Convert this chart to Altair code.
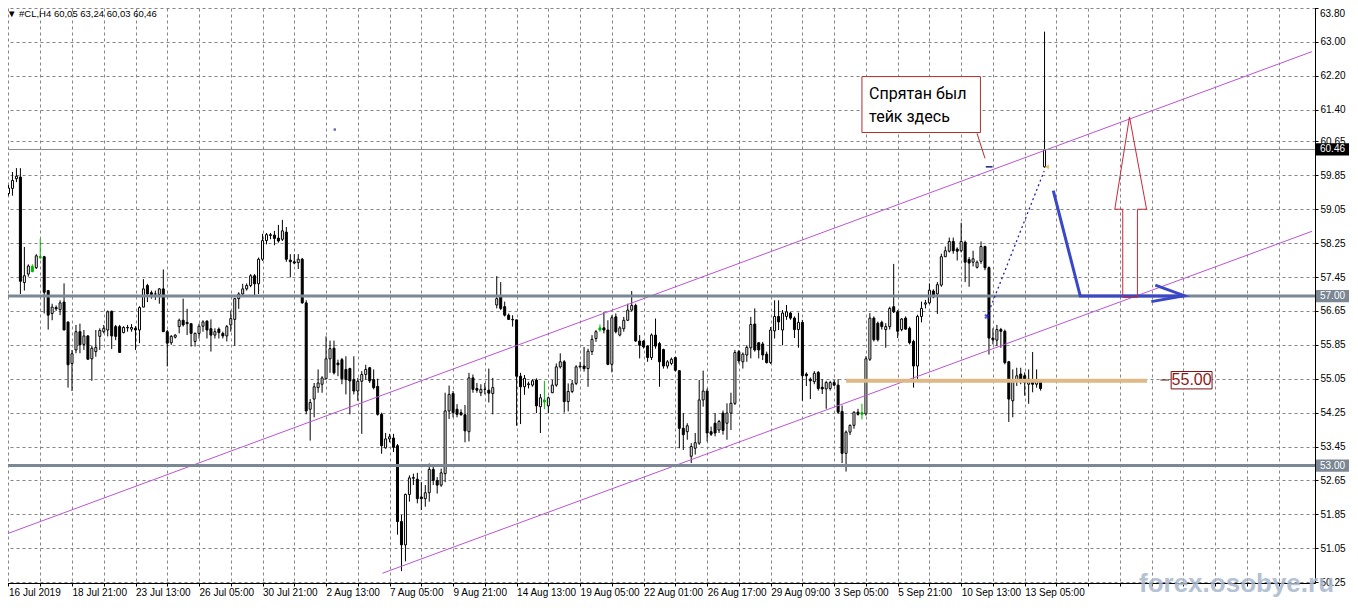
import altair as alt
import pandas as pd

W, H = 1313, 581

# ---------------- data ----------------
opens = [
    59.42, 59.54, 59.77, 59.81, 57.32, 57.52, 57.58, 57.67, 57.93, 57.93,
    57.13, 56.59, 56.73, 56.68, 56.86, 56.39, 55.41, 55.73, 56.16, 55.86,
    56.06, 55.52, 55.69, 56.05, 56.16, 56.20, 56.64, 56.28, 56.28, 56.14,
    56.26, 56.22, 56.24, 56.20, 56.74, 57.25, 57.08, 57.05, 57.04, 57.17,
    56.16, 55.90, 56.03, 56.28, 56.43, 56.38, 56.35, 55.93, 56.12, 56.29,
    56.41, 56.23, 56.08, 56.22, 56.12, 56.06, 56.32, 56.45, 56.94, 57.05,
    57.17, 57.25, 57.48, 57.29, 57.87, 58.31, 58.43, 58.44, 58.37, 58.34,
    58.51, 57.85, 57.81, 57.79, 57.87, 56.84, 54.33, 54.57, 54.84, 54.92,
    55.05, 55.52, 55.77, 55.42, 55.50, 55.27, 55.29, 55.03, 54.76, 54.99,
    55.15, 55.31, 55.03, 54.87, 54.21, 53.42, 53.63, 53.65, 53.47, 51.68,
    51.13, 52.32, 52.70, 52.68, 52.26, 52.22, 52.36, 52.91, 52.65, 52.54,
    52.81, 54.29, 54.70, 54.33, 54.25, 54.20, 53.80, 55.07, 54.82, 54.72,
    54.80, 54.78, 54.70, 56.79, 56.98, 56.75, 56.55, 56.45, 56.44, 55.11,
    54.86, 54.91, 54.90, 55.02, 54.39, 54.55, 54.41, 54.72, 54.90, 55.33,
    55.45, 54.51, 54.75, 54.94, 55.33, 55.35, 55.29, 55.69, 56.00, 56.20,
    56.25, 56.20, 55.39, 56.51, 56.08, 56.23, 56.43, 56.67, 56.78, 55.94,
    55.94, 55.82, 55.55, 56.08, 55.88, 55.74, 55.35, 55.41, 55.55, 55.24,
    53.88, 53.80, 53.22, 53.41, 53.53, 54.55, 54.76, 53.80, 54.00, 53.84,
    54.24, 54.00, 54.24, 54.47, 55.69, 55.45, 55.61, 55.78, 56.34, 55.90,
    55.87, 55.63, 55.43, 56.18, 56.52, 56.20, 56.52, 56.60, 56.48, 56.21,
    56.38, 55.16, 55.04, 54.98, 55.20, 54.85, 54.81, 54.82, 54.96, 54.90,
    54.28, 53.29, 53.79, 53.95, 54.26, 54.21, 54.22, 55.51, 56.48, 56.36,
    56.38, 56.21, 56.28, 56.75, 56.63, 56.21, 56.48, 56.24, 55.93, 55.35,
    56.52, 56.81, 56.84, 57.12, 57.05, 57.26, 57.93, 58.06, 58.29, 58.11,
    58.07, 58.27, 57.86, 57.80, 57.68, 57.82, 58.17, 57.67, 56.01, 55.96,
    56.21, 56.17, 55.45, 54.53, 55.00, 55.16, 55.12, 54.92, 55.00, 54.92,
    54.98, 60.05,
]
highs = [
    59.62, 59.93, 60.02, 60.02, 58.16, 57.75, 57.75, 57.99, 58.35, 57.95,
    57.13, 56.82, 56.78, 56.90, 57.30, 56.39, 55.73, 56.32, 56.35, 56.20,
    56.08, 55.83, 56.20, 56.24, 56.32, 56.66, 56.66, 56.32, 56.32, 56.29,
    56.32, 56.34, 56.29, 56.76, 57.40, 57.29, 57.13, 57.13, 57.19, 57.63,
    56.20, 56.08, 56.10, 56.47, 56.94, 56.70, 56.35, 56.14, 56.35, 56.43,
    56.43, 56.45, 56.24, 56.26, 56.16, 56.32, 56.66, 56.96, 57.09, 57.29,
    57.30, 57.52, 57.52, 57.91, 58.47, 58.49, 58.49, 58.54, 58.68, 58.80,
    58.63, 57.99, 57.99, 57.99, 57.90, 56.90, 54.57, 54.95, 55.27, 55.11,
    56.05, 55.95, 55.95, 55.50, 55.54, 55.58, 55.31, 55.58, 55.07, 55.23,
    55.38, 55.33, 55.27, 55.05, 54.25, 53.77, 53.75, 53.75, 53.51, 51.84,
    52.34, 52.77, 52.81, 52.83, 52.61, 52.54, 53.05, 52.97, 52.73, 52.93,
    54.72, 54.89, 54.76, 54.45, 54.33, 54.43, 55.19, 55.15, 54.95, 54.92,
    54.95, 55.29, 55.07, 57.47, 57.33, 56.87, 56.59, 56.55, 56.44, 55.19,
    55.14, 54.98, 55.04, 55.06, 54.69, 55.00, 54.63, 55.02, 55.41, 55.65,
    55.49, 54.94, 55.02, 55.37, 55.45, 55.80, 55.76, 56.08, 56.20, 56.33,
    56.63, 56.43, 56.55, 56.59, 56.29, 56.51, 56.82, 57.12, 56.82, 56.08,
    55.96, 55.84, 56.12, 56.47, 55.92, 55.76, 55.49, 55.55, 55.57, 55.25,
    54.24, 54.00, 53.53, 53.77, 55.02, 55.24, 54.82, 53.92, 54.24, 54.08,
    54.30, 54.47, 54.72, 55.73, 55.73, 55.67, 55.84, 56.51, 56.71, 55.90,
    55.92, 55.69, 56.27, 56.90, 56.90, 56.67, 56.79, 56.63, 56.52, 56.61,
    56.44, 55.20, 55.08, 55.23, 55.23, 55.04, 55.00, 55.00, 55.02, 55.04,
    54.42, 53.83, 53.97, 54.28, 54.34, 54.46, 55.58, 56.60, 56.52, 56.40,
    56.42, 56.36, 56.75, 57.76, 56.67, 56.48, 56.52, 56.28, 55.97, 56.56,
    56.87, 56.91, 57.30, 57.16, 57.33, 58.00, 58.17, 58.38, 58.38, 58.15,
    58.73, 58.31, 57.92, 58.07, 57.84, 58.29, 58.19, 57.70, 56.24, 56.32,
    56.25, 56.21, 55.47, 55.27, 55.31, 55.31, 55.20, 55.27, 55.68, 55.27,
    55.04, 63.24,
]
lows = [
    59.37, 59.37, 59.69, 57.05, 57.13, 57.46, 57.56, 57.64, 57.87, 56.59,
    56.21, 56.43, 56.65, 56.55, 56.20, 54.84, 54.76, 55.65, 55.65, 55.73,
    55.50, 55.00, 55.57, 55.73, 56.12, 56.05, 55.75, 55.96, 55.67, 56.12,
    56.16, 56.16, 55.73, 55.89, 56.74, 56.86, 56.94, 56.91, 56.82, 56.16,
    55.34, 55.85, 56.00, 56.12, 56.28, 56.08, 55.81, 55.81, 56.00, 56.16,
    56.00, 55.69, 56.00, 56.00, 56.00, 55.93, 56.16, 55.83, 56.70, 57.01,
    57.13, 57.21, 57.01, 57.05, 57.83, 58.22, 58.34, 58.20, 58.26, 58.30,
    57.81, 57.44, 57.75, 57.64, 56.82, 54.21, 53.59, 54.14, 54.72, 54.72,
    55.03, 55.19, 55.15, 55.11, 54.92, 54.68, 54.21, 54.68, 54.53, 53.75,
    55.03, 54.95, 54.80, 54.18, 53.28, 53.40, 53.55, 53.32, 51.37, 50.51,
    50.74, 52.15, 52.54, 52.11, 51.95, 52.03, 52.15, 52.54, 52.34, 52.50,
    52.61, 54.10, 54.14, 54.14, 54.18, 53.55, 53.57, 54.72, 54.72, 54.64,
    54.68, 54.49, 54.21, 56.71, 56.67, 56.52, 56.44, 56.28, 53.94, 53.98,
    54.67, 54.82, 54.86, 54.24, 53.77, 54.33, 54.24, 54.71, 54.86, 55.29,
    54.25, 54.28, 54.71, 54.90, 55.29, 55.22, 54.86, 55.61, 55.92, 56.16,
    56.12, 55.37, 55.20, 56.12, 56.05, 56.16, 56.41, 56.63, 55.92, 55.53,
    55.76, 55.45, 55.49, 55.76, 54.86, 55.29, 55.29, 55.37, 55.22, 53.41,
    53.37, 53.61, 53.06, 53.26, 53.49, 54.39, 53.57, 53.70, 53.69, 53.77,
    53.73, 53.61, 53.84, 54.43, 55.41, 55.29, 55.45, 55.53, 55.69, 55.53,
    55.49, 55.41, 55.40, 56.00, 56.20, 55.84, 56.44, 56.44, 56.01, 55.78,
    54.53, 54.88, 54.57, 54.92, 54.77, 54.69, 54.34, 54.77, 54.87, 54.22,
    53.06, 52.86, 53.72, 53.87, 54.18, 54.09, 54.18, 55.47, 55.93, 55.93,
    56.21, 55.78, 56.21, 56.60, 56.01, 56.17, 56.21, 55.86, 54.84, 55.04,
    56.38, 56.71, 56.81, 56.95, 56.58, 57.22, 57.92, 58.03, 58.00, 57.84,
    58.03, 57.33, 57.22, 57.70, 57.65, 57.76, 57.61, 55.62, 55.86, 55.82,
    55.78, 55.39, 54.03, 54.14, 54.88, 54.92, 54.65, 54.46, 54.73, 54.84,
    54.77, 60.03,
]
closes = [
    59.55, 59.73, 59.83, 57.35, 57.48, 57.71, 57.70, 57.95, 57.91, 57.09,
    56.55, 56.74, 56.70, 56.84, 56.20, 55.38, 55.64, 56.16, 55.85, 56.06,
    55.51, 55.77, 55.79, 56.19, 56.24, 56.63, 56.06, 56.05, 55.67, 56.26,
    56.25, 56.26, 56.20, 56.73, 57.17, 57.05, 57.04, 57.05, 57.17, 56.16,
    55.89, 56.05, 56.08, 56.43, 56.32, 56.35, 56.12, 56.12, 56.29, 56.39,
    56.20, 56.08, 56.16, 56.14, 56.06, 56.28, 56.47, 56.94, 57.05, 57.17,
    57.25, 57.48, 57.29, 57.87, 58.31, 58.45, 58.45, 58.36, 58.30, 58.54,
    57.87, 57.81, 57.78, 57.87, 56.84, 54.29, 54.49, 54.86, 54.95, 55.07,
    55.52, 55.76, 55.19, 55.38, 55.05, 55.03, 55.00, 54.76, 54.99, 55.15,
    55.27, 55.00, 54.84, 54.21, 53.47, 53.63, 53.68, 53.43, 51.68, 51.13,
    52.32, 52.71, 52.72, 52.22, 52.22, 52.36, 52.91, 52.65, 52.54, 52.83,
    54.29, 54.68, 54.25, 54.21, 54.20, 53.82, 55.07, 54.80, 54.78, 54.80,
    54.80, 54.71, 54.84, 56.94, 56.71, 56.55, 56.45, 56.44, 55.11, 54.86,
    55.06, 54.93, 55.00, 54.41, 54.60, 54.50, 54.60, 54.90, 55.33, 55.45,
    54.51, 54.75, 54.93, 55.33, 55.35, 55.29, 55.70, 55.98, 56.16, 56.25,
    56.20, 55.39, 56.49, 56.16, 56.25, 56.43, 56.67, 56.78, 55.94, 55.84,
    55.80, 55.55, 56.08, 55.82, 55.45, 55.35, 55.45, 55.51, 55.25, 53.88,
    53.73, 53.94, 53.45, 53.54, 54.55, 54.76, 53.77, 53.74, 53.77, 54.04,
    53.83, 54.24, 54.47, 55.67, 55.47, 55.63, 55.79, 56.33, 55.73, 55.73,
    55.61, 55.43, 56.20, 56.52, 56.39, 56.60, 56.63, 56.48, 56.21, 56.38,
    55.12, 55.12, 55.00, 55.18, 54.82, 54.81, 54.96, 54.96, 54.90, 54.26,
    53.29, 53.79, 53.95, 54.26, 54.21, 54.25, 55.52, 56.48, 55.97, 55.97,
    56.28, 56.28, 56.71, 56.63, 56.17, 56.46, 56.22, 55.90, 55.35, 56.52,
    56.71, 56.84, 57.14, 56.98, 57.27, 57.93, 58.07, 58.29, 58.07, 58.06,
    58.29, 57.80, 57.78, 57.88, 57.80, 58.17, 57.67, 56.01, 55.97, 56.21,
    56.17, 55.43, 54.57, 55.00, 55.12, 55.04, 54.96, 55.04, 54.92, 55.00,
    54.82, 60.46,
]
green_bars = [7, 9, 136, 150, 216]

x_tick_labels = ["16 Jul 2019", "18 Jul 21:00", "23 Jul 13:00", "26 Jul 05:00",
                 "30 Jul 21:00", "2 Aug 13:00", "7 Aug 05:00", "9 Aug 21:00",
                 "14 Aug 13:00", "19 Aug 05:00", "22 Aug 01:00", "26 Aug 17:00",
                 "29 Aug 09:00", "3 Sep 05:00", "5 Sep 21:00", "10 Sep 13:00",
                 "13 Sep 05:00"]
y_ticks = [50.25, 51.05, 51.85, 52.65, 53.45, 54.25, 55.05, 55.85, 56.65,
           57.45, 58.25, 59.05, 59.85, 60.65, 61.40, 62.20, 63.00, 63.80]
top_tick = 63.80

title_text = "▼ #CL,H4  60,05 63,24 60,03 60,46"

level_prices = [57.00, 53.00]
last_price = 60.46
support_price = 55.00
support_from, support_to = 212.0, 287.8

channel_names = ["upper", "upper", "lower", "lower"]
channel_bar = [0.625, 329.4, 95.2, 329.4]
channel_price = [51.39, 62.77, 50.46, 58.53]

blue_seg = ["a", "a", "a", "b", "b", "b"]
blue_bar = [264.2, 271.0, 297.2, 289.9, 297.2, 288.9]
blue_price = [59.49, 57.00, 57.00, 57.26, 57.01, 56.87]

dotted_bar = [247.5, 261.9]
dotted_price = [56.52, 59.95]

red_arrow_bar = [281.7, 281.7, 279.7, 283.4, 287.7, 285.4, 285.4, 281.7]
red_arrow_price = [56.97, 59.05, 59.05, 61.23, 59.05, 59.05, 56.97, 56.97]

note_lines = ["Спрятан был", "тейк здесь"]
note_box_bar = [216.0, 245.85]
note_box_price = [62.18, 60.86]
note_text_bar = 217.8
note_text_price = [61.77, 61.23]
leader_bar = [245.0, 247.0]
leader_price = [60.84, 60.25]
dash_bar = [247.2, 248.9]
dash_price = 60.05

label_box_bar = [293.9, 304.2]
label_box_price = [55.22, 54.81]
label_tick_bar = [291.2, 293.4]

# ---------------- scales / axes ----------------
X0 = 0.625
xscale = alt.Scale(domain=[X0, X0 + W / 4.0], nice=False, zero=False)
yscale = alt.Scale(domain=[50.23, 63.94], nice=False, zero=False)

labels_js = "[" + ",".join("'" + s + "'" for s in x_tick_labels) + "]"
xaxis = alt.Axis(
    orient="bottom", values=list(range(1, 329, 8)),
    labelExpr="(datum.value - 1) % 16 == 0 ? " + labels_js + "[(datum.value - 1) / 16] : ''",
    grid=True, gridDash=[3, 3], gridColor="#858585", gridWidth=1,
    tickSize=3, tickColor="black", domainColor="black", domainWidth=1,
    labelFont="Liberation Sans", labelFontSize=10, labelColor="black",
    labelAlign="left", labelPadding=1, labelFlush=False, labelOverlap=False,
    title=None,
)
yaxis = alt.Axis(
    orient="right", values=y_ticks, format=".2f",
    labelExpr="datum.value >= %.2f ? '' : format(datum.value, '.2f')" % (top_tick - 0.001),
    grid=True, gridDash=[3, 3], gridColor="#858585", gridWidth=1,
    tickSize=3, tickColor="black", domainColor="black", domainWidth=1,
    labelFont="Liberation Sans", labelFontSize=10, labelColor="black",
    labelPadding=2, labelFlush=False, labelOverlap=False, title=None,
)


def X(f):
    return alt.X(f, type="quantitative", scale=xscale, axis=xaxis)


def Y(f):
    return alt.Y(f, type="quantitative", scale=yscale, axis=yaxis)


# ---------------- candles ----------------
n = len(opens)
idx = list(range(1, n + 1))
kinds = []
for i, o, c in zip(idx, opens, closes):
    if i in green_bars:
        kinds.append("green")
    elif c >= o:
        kinds.append("bull")
    else:
        kinds.append("bear")
edge = {"green": "#00b400", "bull": "#000000", "bear": "#000000"}
fillc = {"green": "#00b400", "bull": "#ffffff", "bear": "#000000"}
bars = pd.DataFrame({
    "i": idx, "o": opens, "h": highs, "l": lows, "c": closes,
    "edge": [edge[k] for k in kinds], "fillc": [fillc[k] for k in kinds],
})

wicks = alt.Chart(bars).mark_rule(strokeWidth=1).encode(
    x=X("i"), y=Y("l"), y2="h", color=alt.Color("edge:N", scale=None))
bodies = alt.Chart(bars).mark_bar(size=2, strokeWidth=1).encode(
    x=X("i"), y=Y("o"), y2="c",
    fill=alt.Fill("fillc:N", scale=None), stroke=alt.Stroke("edge:N", scale=None))

# ---------------- drawn objects ----------------
channels = alt.Chart(pd.DataFrame({"line": channel_names, "b": channel_bar, "p": channel_price})) \
    .mark_line(color="#ba55d3", strokeWidth=1, clip=True).encode(x=X("b"), y=Y("p"), detail="line:N")

levels = alt.Chart(pd.DataFrame({"p": level_prices})).mark_rule(color="#7b8794", strokeWidth=3) \
    .encode(y=Y("p"))
last_line = alt.Chart(pd.DataFrame({"p": [last_price]})).mark_rule(color="#8c8c8c", strokeWidth=1) \
    .encode(y=Y("p"))
support = alt.Chart(pd.DataFrame({"b": [support_from], "b2": [support_to], "p": [support_price]})) \
    .mark_rule(color="#deb887", strokeWidth=4).encode(x=X("b"), x2="b2", y=Y("p"))

left_border = alt.Chart(pd.DataFrame({"k": [0]})).mark_rule(color="black", strokeWidth=1).encode(
    x=alt.value(0.5), y=alt.value(0), y2=alt.value(H))

blue = alt.Chart(pd.DataFrame({"seg": blue_seg, "k": list(range(len(blue_bar))), "b": blue_bar, "p": blue_price})) \
    .mark_line(color="#3a48c8", strokeWidth=3, strokeJoin="miter").encode(
        x=X("b"), y=Y("p"), detail="seg:N", order="k:Q")
dotted = alt.Chart(pd.DataFrame({"b": dotted_bar, "p": dotted_price})) \
    .mark_line(color="#2222b0", strokeWidth=1.3, strokeDash=[2, 3]).encode(x=X("b"), y=Y("p"))
star = alt.Chart(pd.DataFrame({"b": [dotted_bar[0]], "p": [dotted_price[0]]})) \
    .mark_point(shape="cross", filled=True, size=30, color="#2020d0", angle=45).encode(x=X("b"), y=Y("p"))

red_arrow = alt.Chart(pd.DataFrame({"k": list(range(len(red_arrow_bar))), "b": red_arrow_bar, "p": red_arrow_price})) \
    .mark_line(color="#c8283c", strokeWidth=1).encode(x=X("b"), y=Y("p"), order="k:Q")

note_box = alt.Chart(pd.DataFrame({"b": [note_box_bar[0]], "b2": [note_box_bar[1]],
                                   "p": [note_box_price[0]], "p2": [note_box_price[1]]})) \
    .mark_rect(fill="white", stroke="#b22d2d", strokeWidth=1).encode(x=X("b"), x2="b2", y=Y("p"), y2="p2")
note_txt = alt.Chart(pd.DataFrame({"t": note_lines, "b": [note_text_bar] * 2, "p": note_text_price})) \
    .mark_text(align="left", baseline="middle", font="Roboto", fontSize=16, color="black") \
    .encode(x=X("b"), y=Y("p"), text="t:N")
leader = alt.Chart(pd.DataFrame({"b": leader_bar, "p": leader_price})) \
    .mark_line(color="#b22d2d", strokeWidth=1).encode(x=X("b"), y=Y("p"))
dash = alt.Chart(pd.DataFrame({"b": [dash_bar[0]], "b2": [dash_bar[1]], "p": [dash_price]})) \
    .mark_rule(color="#1a1a8c", strokeWidth=1.5).encode(x=X("b"), x2="b2", y=Y("p"))
dot = alt.Chart(pd.DataFrame({"b": [83.2], "p": [60.93]})) \
    .mark_square(size=6, color="#2a2aa0").encode(x=X("b"), y=Y("p"))
marker = alt.Chart(pd.DataFrame({"b": [262.6], "p": [60.05]})) \
    .mark_point(shape="triangle-left", filled=True, size=22, color="#e6a020").encode(x=X("b"), y=Y("p"))

lbl_box = alt.Chart(pd.DataFrame({"b": [label_box_bar[0]], "b2": [label_box_bar[1]],
                                  "p": [label_box_price[0]], "p2": [label_box_price[1]]})) \
    .mark_rect(fill="white", stroke="#7a1010", strokeWidth=1).encode(x=X("b"), x2="b2", y=Y("p"), y2="p2")
lbl_tick = alt.Chart(pd.DataFrame({"b": [label_tick_bar[0]], "b2": [label_tick_bar[1]], "p": [55.02]})) \
    .mark_rule(color="#5a1010", strokeWidth=1).encode(x=X("b"), x2="b2", y=Y("p"))
lbl_txt = alt.Chart(pd.DataFrame({"t": ["%.2f" % support_price],
                                  "b": [(label_box_bar[0] + label_box_bar[1]) / 2], "p": [55.02]})) \
    .mark_text(align="center", baseline="middle", font="Liberation Sans", fontSize=16, color="#8b1a1a") \
    .encode(x=X("b"), y=Y("p"), text="t:N")

# price tags on the right axis
tags = pd.DataFrame({
    "p": [last_price] + level_prices,
    "bg": ["#000000", "#7b8794", "#7b8794"],
})
tags["top"] = tags["p"] + 0.145
tags["bot"] = tags["p"] - 0.145
tags["t"] = ["%.2f" % v for v in tags["p"]]
tag_rect = alt.Chart(tags).mark_rect().encode(
    x=alt.value(W + 1), x2=alt.value(W + 36), y=Y("top"), y2="bot",
    fill=alt.Fill("bg:N", scale=None))
tag_txt = alt.Chart(tags).mark_text(align="left", baseline="middle", font="Liberation Sans",
                                    fontSize=10, color="white").encode(
    x=alt.value(W + 5), y=Y("p"), text="t:N")

# top axis label, kept inside the visible page area
top_label = alt.Chart(pd.DataFrame({"t": ["%.2f" % top_tick]})).mark_text(
    align="left", baseline="top", font="Liberation Sans", fontSize=10, color="black").encode(
    x=alt.value(W + 5), y=alt.value(6.5), text="t:N")

title = alt.Chart(pd.DataFrame({"t": [title_text]})).mark_text(
    align="left", baseline="top", font="Liberation Sans", fontSize=9.5, color="black").encode(
    x=alt.value(5), y=alt.value(7), text="t:N")
watermark = alt.Chart(pd.DataFrame({"t": ["forex.osobye.ru"]})).mark_text(
    align="left", baseline="alphabetic", font="Liberation Sans", fontSize=26, fontWeight="bold",
    color="#a9b7cd", opacity=0.85).encode(x=alt.value(W - 176), y=alt.value(H + 9), text="t:N")

chart = alt.layer(
    wicks, bodies, channels, levels, last_line, support, left_border,
    dotted, star, blue, red_arrow, note_box, note_txt, leader, dash, dot, marker,
    lbl_tick, lbl_box, lbl_txt, tag_rect, tag_txt, top_label, title, watermark,
).properties(
    width=W, height=H,
    autosize=alt.AutoSizeParams(type="none"),
    padding={"left": -6, "top": -6, "right": 34, "bottom": 15},
    background="white",
).configure_view(stroke=None)

chart.save("out.html", embed_options={"renderer": "svg", "actions": False})
